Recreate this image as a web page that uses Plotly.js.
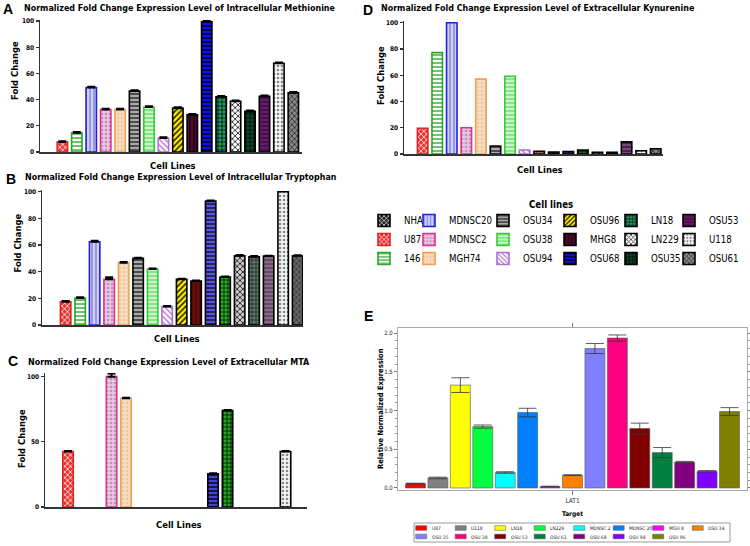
<!DOCTYPE html>
<html><head><meta charset="utf-8">
<script src="https://cdn.plot.ly/plotly-3.0.1.min.js"></script>
<style>html,body{margin:0;padding:0;background:#fff}#chart{width:750px;height:546px}</style>
</head><body><div id="chart"></div>
<script>
// ---------- data ----------
const cellLines = ['NHA','U87','146','MDNSC20','MDNSC2','MGH74','OSU34','OSU38','OSU94','OSU96','MHG8','OSU68','LN18','LN229','OSU35','OSU53','U118','OSU61'];
const methionine    = [null,7.6,14.7,49.2,32.5,32.5,46.5,34.3,10.7,33.5,28.4,99.5,42.1,38.8,31.0,42.6,67.8,45.2];
const methionineErr = [0,0.6,0.6,0.6,0.6,0.6,0.6,0.6,0.6,0.6,0.6,0.6,0.6,0.6,0.6,0.6,0.6,0.6];
const tryptophan    = [null,17.5,20.2,62.5,34.3,46.8,50.0,42.0,13.8,34.3,33.0,93.0,36.0,52.0,51.2,51.7,100,52.0];
const tryptophanErr = [0,0.6,0.6,0.8,1.5,0.4,0.4,0.4,0.4,0.4,0.4,0.5,0.4,0.5,0.6,0.3,0,0.4];
const mta           = [null,42.6,null,null,100,83.4,null,null,null,null,null,25.5,74.0,null,null,null,42.6,null];
const mtaErr        = [0,0.4,0,0,2.5,0.5,0,0,0,0,0,0.4,0.4,0,0,0,0.4,0];
const kynurenine    = [null,19.6,77.2,100,20.0,57.0,6.1,59.2,3.0,2.0,1.5,1.8,3.0,1.3,1.3,9.2,2.5,4.0];
const kynurenineErr = [0,0,0,0,0,0,0,0,0,0,0,0,0,0,0,0,0,0];

const latNames = ['U87','U118','LN18','LN229','MDNSC 2','MDNSC 20','MGH 8','OSU 34','OSU 35','OSU 38','OSU 53','OSU 61','OSU 68','OSU 94','OSU 96'];
const lat1     = [0.057,0.13,1.328,0.793,0.20,0.974,0.018,0.165,1.80,1.935,0.767,0.457,0.333,0.215,0.987];
const lat1Err  = [0.005,0.01,0.095,0.02,0.01,0.055,0.005,0.005,0.065,0.04,0.07,0.065,0.01,0.01,0.05];
const lat1Tick = 'LAT1';

// ---------- styles ----------
const latColors = ['#ff0000','#808080','#ffff00','#00ff40','#00ffff','#0080ff','#ff00ff','#ff8000','#8080ff','#ff0080','#800000','#008040','#800080','#8000ff','#808000'];
const baseStyle = {
  NHA:{s:'x',fg:'#ffffff',bg:'#222222',ln:'#000000'},
  U87:{s:'x',fg:'#ffffff',bg:'#ee3333',ln:'#dd2222'},
  '146':{s:'-',fg:'#33aa33',bg:'#ffffff',ln:'#22aa22'},
  MDNSC20:{s:'|',fg:'#8080e0',bg:'#d0d0f5',ln:'#2020dd'},
  MDNSC2:{s:'.',fg:'#c090c0',bg:'#e8c8e0',ln:'#e0308a'},
  MGH74:{s:'.',fg:'#f0c8a0',bg:'#f8dcc0',ln:'#f0a050'},
  OSU34:{s:'-',fg:'#222222',bg:'#aaaaaa',ln:'#000000'},
  OSU38:{s:'-',fg:'#66dd66',bg:'#ccf5cc',ln:'#33cc33'},
  OSU94:{s:'\\',fg:'#b070d0',bg:'#ffffff',ln:'#b070d0'},
  OSU96:{s:'/',fg:'#000000',bg:'#ffee00',ln:'#000000'},
  MHG8:{s:'|',fg:'#200010',bg:'#4a0a30',ln:'#000000'},
  OSU68:{s:'-',fg:'#000000',bg:'#1010f0',ln:'#000000'},
  LN18:{s:'+',fg:'#000000',bg:'#20a060',ln:'#000000'},
  LN229:{s:'x',fg:'#000000',bg:'#ffffff',ln:'#000000'},
  OSU35:{s:'+',fg:'#000000',bg:'#0a4a2a',ln:'#000000'},
  OSU53:{s:'-',fg:'#3a0a3a',bg:'#6a1a6a',ln:'#000000'},
  U118:{s:'.',fg:'#888888',bg:'#f5f5f5',ln:'#000000'},
  OSU61:{s:'x',fg:'#222222',bg:'#888888',ln:'#000000'}
};
const overrides = {
  B:{MHG8:{bg:'#6b0d0d',fg:'#4a0505'},OSU68:{bg:'#5555ee',fg:'#111111'},LN18:{bg:'#22bb22'},OSU35:{bg:'#5a7a6a',fg:'#222222'},OSU53:{bg:'#8a6a8a',fg:'#5a3a5a'},OSU61:{bg:'#666666',fg:'#333333'},LN229:{bg:'#cccccc'}},
  C:{OSU68:{bg:'#4444dd'},LN18:{bg:'#22aa22'}},
  D:{OSU96:{s:'x',bg:'#cc4422',fg:'#ffffff'},MHG8:{bg:'#3a0a1a'},OSU68:{bg:'#3030a0'},LN18:{bg:'#1a6a2a'},OSU53:{bg:'#7a4a7a'}}
};
function st(name,panel){return Object.assign({},baseStyle[name],(overrides[panel]||{})[name]||{});}

const COND = "DejaVu Sans Condensed, DejaVu Sans, sans-serif";
const W=750,H=546;
const px=x=>x/W, py=y=>1-y/H;

const data=[];
function addPanel(vals,errs,panel,xa,ya,withLegend){
  cellLines.forEach((n,i)=>{
    const o=st(n,panel);
    const t={type:'bar',x:[n],y:[vals[i]],xaxis:xa,yaxis:ya,width:0.72,name:n,showlegend:withLegend,
      marker:{color:o.bg,line:{color:o.ln,width:1.6},
        pattern:{shape:o.s,fgcolor:o.fg,bgcolor:o.bg,size:4,solidity:0.35,fillmode:'replace'}},
      error_y:{type:'data',array:[errs[i]],arrayminus:[0],symmetric:false,visible:errs[i]>0,color:'#000',thickness:2,width:4}};
    if(withLegend){ const c=Math.floor(i/3); t.legend = c===0?'legend':'legend'+(c+1); }
    data.push(t);
  });
}
addPanel(methionine,methionineErr,'A','x','y',true);
addPanel(tryptophan,tryptophanErr,'B','x2','y2',false);
addPanel(mta,mtaErr,'C','x3','y3',false);
addPanel(kynurenine,kynurenineErr,'D','x4','y4',false);
data.push({type:'bar',x:latNames,y:lat1,xaxis:'x5',yaxis:'y5',width:0.89,showlegend:false,
   marker:{color:latColors,line:{color:'#555',width:0.6}},
   error_y:{type:'data',array:lat1Err,color:'#333',thickness:0.8,width:9}});

const tickF={family:COND,size:6.5,color:'#000',weight:'bold'};
function xAx(dom,range,anchor){return {domain:dom,range:range,anchor:anchor,type:'category',categoryorder:'array',categoryarray:cellLines,showline:true,linecolor:'#333',linewidth:1.5,showticklabels:false,ticks:'',showgrid:false,zeroline:false,fixedrange:true};}
function yAx(dom,range,anchor,dtick){return {domain:dom,range:range,anchor:anchor,showline:true,linecolor:'#333',linewidth:1.5,ticks:'outside',ticklen:3,tickwidth:1.2,tickcolor:'#333',dtick:dtick,tickfont:tickF,showgrid:false,zeroline:false,fixedrange:true};}

const layout={
  width:W,height:H,margin:{l:0,r:0,t:0,b:0},paper_bgcolor:'#fff',plot_bgcolor:'rgba(0,0,0,0)',
  barmode:'overlay',showlegend:true,
  font:{family:COND,color:'#000'},
  xaxis:xAx([px(40),px(302)],[-0.55,17.6],'y'), yaxis:yAx([py(152),py(20)],[0,100.8],'x',20),
  xaxis2:xAx([px(42),px(303)],[-0.63,17.37],'y2'), yaxis2:yAx([py(325),py(190)],[0,101.3],'x2',20),
  xaxis3:xAx([px(45),px(307)],[-0.59,17.48],'y3'), yaxis3:yAx([py(507),py(373)],[0,102.8],'x3',50),
  xaxis4:xAx([px(404),px(663)],[-0.28,17.5],'y4'), yaxis4:yAx([py(154),py(21)],[0,101.3],'x4',20),
  xaxis5:{domain:[px(398),px(747)],anchor:'y5',type:'category',categoryorder:'array',categoryarray:latNames,range:[-0.78,14.78],
    tickvals:[latNames[7]],ticktext:[lat1Tick],ticks:'outside',ticklen:4,tickcolor:'#777',mirror:'ticks',showline:true,linecolor:'#aaa',linewidth:1,
    tickfont:{family:COND,size:6.5,color:'#222'},showgrid:false,zeroline:false,fixedrange:true},
  yaxis5:{domain:[py(490),py(328)],anchor:'x5',range:[-0.026,2.065],tickvals:[0,0.5,1,1.5,2],tickformat:'.1f',ticks:'outside',ticklen:3,tickcolor:'#777',
    mirror:'ticks',showline:true,linecolor:'#aaa',linewidth:1,tickfont:{family:COND,size:6,color:'#222'},showgrid:false,zeroline:false,fixedrange:true,
    minor:{ticks:'outside',ticklen:2,dtick:0.1,tickcolor:'#999'}},
  annotations:[],shapes:[]
};
// six vertical legends = six columns of the "Cell lines" key
const legendX=[364,409,483,550,611,669];
legendX.forEach((lx,c)=>{
  layout[c===0?'legend':'legend'+(c+1)]={orientation:'v',x:px(lx),y:py(206),xanchor:'left',yanchor:'top',
    font:{family:COND,size:9.6,color:'#000'},bgcolor:'rgba(0,0,0,0)',borderwidth:0,traceorder:'normal',
    itemclick:false,itemdoubleclick:false,tracegroupgap:0};
});

const A=layout.annotations;
function ann(text,x,y,o){A.push(Object.assign({text:text,x:px(x),y:py(y),xref:'paper',yref:'paper',showarrow:false,xanchor:'center',yanchor:'middle',font:{family:COND,size:10,color:'#000'}},o||{}));}
const letterF={family:'Liberation Sans, Arial, sans-serif',size:14,color:'#000',weight:'bold'};
const titleF={family:COND,size:8.9,color:'#000',weight:'bold'};
const axT={family:COND,size:9.4,color:'#000',weight:'bold'};
ann('A',8,9,{font:letterF});
ann('Normalized Fold Change Expression Level of Intracellular Methionine',22,8,{xanchor:'left',font:titleF});
ann('B',11,179,{font:letterF});
ann('Normalized Fold Change Expression Level of Intracellular Tryptophan',23,177,{xanchor:'left',font:titleF});
ann('C',13,361,{font:letterF});
ann('Normalized Fold Change Expression Level of Extracellular MTA',26,362,{xanchor:'left',font:titleF});
ann('D',368,10,{font:letterF});
ann('Normalized Fold Change Expression Level of Extracellular Kynurenine',379,8,{xanchor:'left',font:titleF});
ann('E',368,316,{font:letterF});
ann('Fold Change',15,71,{textangle:-90,font:axT});
ann('Fold Change',17.5,243,{textangle:-90,font:axT});
ann('Fold Change',21,439,{textangle:-90,font:axT});
ann('Fold Change',381,76,{textangle:-90,font:axT});
ann('Cell Lines',172.5,165,{font:axT});
ann('Cell Lines',176.5,338,{font:axT});
ann('Cell Lines',179,524,{font:axT});
ann('Cell Lines',540,169,{font:axT});
ann('Cell lines',551,204,{font:{family:COND,size:9.6,color:'#000',weight:'bold'}});
ann('Relative Normalized Expression',380,409,{textangle:-90,font:{family:COND,size:7.5,color:'#000',weight:'bold'}});
ann('Target',572,514,{font:{family:COND,size:6.5,color:'#000',weight:'bold'}});
// E legend (boxed key)
layout.shapes.push({type:'rect',xref:'paper',yref:'paper',x0:px(414),x1:px(730),y0:py(542),y1:py(523),line:{color:'#999',width:1},fillcolor:'#fff'});
latNames.forEach((n,i)=>{
  const row=i<8?0:1, col=i<8?i:i-8;
  const x0=415.7+col*39.5, yc=528+row*8.5;
  layout.shapes.push({type:'rect',xref:'paper',yref:'paper',x0:px(x0),x1:px(x0+11),y0:py(yc+2.3),y1:py(yc-2.3),fillcolor:latColors[i],line:{color:'#555',width:0.5}});
  ann(n,x0+14,yc,{xanchor:'left',font:{family:COND,size:4.9,color:'#222'}});
});

Plotly.newPlot('chart',data,layout,{displayModeBar:false,staticPlot:true});
</script></body></html>
